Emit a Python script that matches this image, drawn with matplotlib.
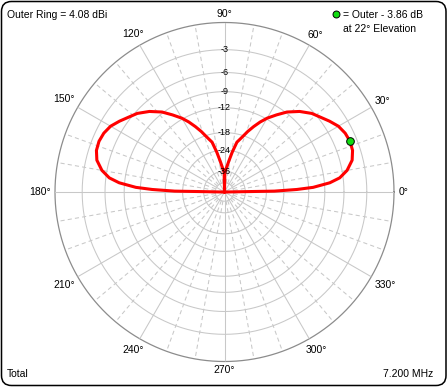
"""
EZNEC style elevation pattern on an ARRL log-scale polar grid.
"""

import matplotlib.pyplot as plt
import numpy as np
from matplotlib.patches import FancyBboxPatch

# Globals:
W, H, DPI = 448, 387, 100
CX, CY, R = 224.5, 192.0, 169.5  # centre and outer ring radius, px (image coords)
FONT = 'Liberation Sans'
GRID = '#c8c8c8'

outer_ring_dbi = 4.08
freq_label = '7.200 MHz'
field_label = 'Total'
ring_db = [-3, -6, -9, -12, -18, -24, -36, -50]
ring_labels = ['-3', '-6', '-9', '-12', '-18', '-24', '-36', '']
angle_ticks = [0, 30, 60, 90, 120, 150, 180, 210, 240, 270, 300, 330]

# right-hand lobe: elevation (deg), gain rel. outer ring (dB)
elev = [0, 1, 2, 3, 5, 7, 10, 14, 18, 22, 26, 30, 34, 38, 42, 47, 52, 56,
        60, 63, 66, 69, 72, 76, 79, 82, 85, 88, 89, 90]
gain = [-99, -21.0, -14.6, -11.1, -8.1, -6.5, -5.3, -4.35, -3.95, -3.86, -4.0,
        -4.35, -5.0, -5.7, -6.3, -7.4, -8.8, -10.3, -11.8, -13.2, -14.8, -16.5,
        -18.4, -20.5, -24.5, -29.0, -33.0, -36.0, -37.0, -99]


def arrl(db):
    """ARRL log scale: radius 0..1 for gain in dB below the outer ring."""
    return 0.89 ** (np.abs(np.asarray(db, float)) / 2)


def main():
    plt.rcParams['font.family'] = [FONT, 'DejaVu Sans']
    fig = plt.figure(figsize=(W / DPI, H / DPI), dpi=DPI)
    ax = fig.add_axes([(CX - R) / W, (H - CY - R) / H, 2 * R / W, 2 * R / H],
                      projection='polar')
    ax.set_ylim(0, 1)
    ax.set_axis_off()

    # rings
    t = np.linspace(0, 2 * np.pi, 721)
    for db in ring_db:
        ax.plot(t, np.full_like(t, arrl(db)), color=GRID, lw=0.75, clip_on=False)
    ax.plot(t, np.ones_like(t), color='#8c8c8c', lw=0.9, clip_on=False)

    # spokes: solid every 30 deg, dashed every 10 deg
    r_in = float(arrl(ring_db[-1]))
    for a in range(0, 360, 10):
        th = np.deg2rad(a)
        if a % 30 == 0:
            ax.plot([th, th], [0, 1], color=GRID, lw=0.75)
        else:
            ax.plot([th, th], [r_in, 1], color=GRID, lw=0.75, ls=(0, (4, 3)))

    # ring labels along the 90 deg spoke
    for db, lab in zip(ring_db, ring_labels):
        if lab:
            ax.text(np.pi / 2, arrl(db), lab, ha='center', va='center',
                    fontsize=6.5, zorder=5)

    # angle labels
    for a in angle_ticks:
        lab = '%d°' % a
        th = np.deg2rad(a)
        w, h = 5.3 * len(lab), 8.0
        rp = 174 + 0.5 * (w * abs(np.cos(th)) + h * abs(np.sin(th)))
        ax.text(th, rp / R, lab, ha='center', va='center', fontsize=7.5,
                clip_on=False)

    # pattern: right lobe, then mirrored left lobe
    th = np.deg2rad(np.concatenate([elev, 180 - np.array(elev[-2::-1])]))
    g = np.concatenate([gain, gain[-2::-1]])
    ax.plot(th, arrl(g), color='red', lw=2.2, solid_joinstyle='round', zorder=4)

    i = int(np.argmax(gain))
    ax.plot(np.deg2rad(elev[i]), arrl(gain[i]), 'o', ms=5.5, mfc='#11dd11',
            mec='black', mew=0.7, zorder=6, clip_on=False)

    # corner texts
    def px(x, y):
        return x / W, 1 - y / H

    fig.text(*px(7, 14.5), 'Outer Ring = %.2f dBi' % outer_ring_dbi,
             ha='left', va='center', fontsize=7.5)
    fig.text(*px(343, 14.5), '= Outer - %.2f dB' % abs(gain[i]),
             ha='left', va='center', fontsize=7.5)
    fig.text(*px(343, 29), 'at %d° Elevation' % elev[i],
             ha='left', va='center', fontsize=7.5)
    fig.lines.append(plt.Line2D([336 / W], [1 - 14 / H], marker='o', ms=5,
                                mfc='#11dd11', mec='black', mew=0.7,
                                transform=fig.transFigure))
    fig.text(*px(7, 374), field_label, ha='left', va='center', fontsize=7.5)
    fig.text(*px(433, 374), freq_label, ha='right', va='center', fontsize=7.5)

    # rounded frame
    frame = FancyBboxPatch((1.5, 1.5), W - 3.5, H - 3, transform=None,
                           boxstyle='round,pad=0,rounding_size=10',
                           fc='none', ec='black', lw=1.1)
    fig.patches.append(frame)

    fig.savefig('out.png', dpi=DPI, facecolor='white')


if __name__ == "__main__":
    main()
